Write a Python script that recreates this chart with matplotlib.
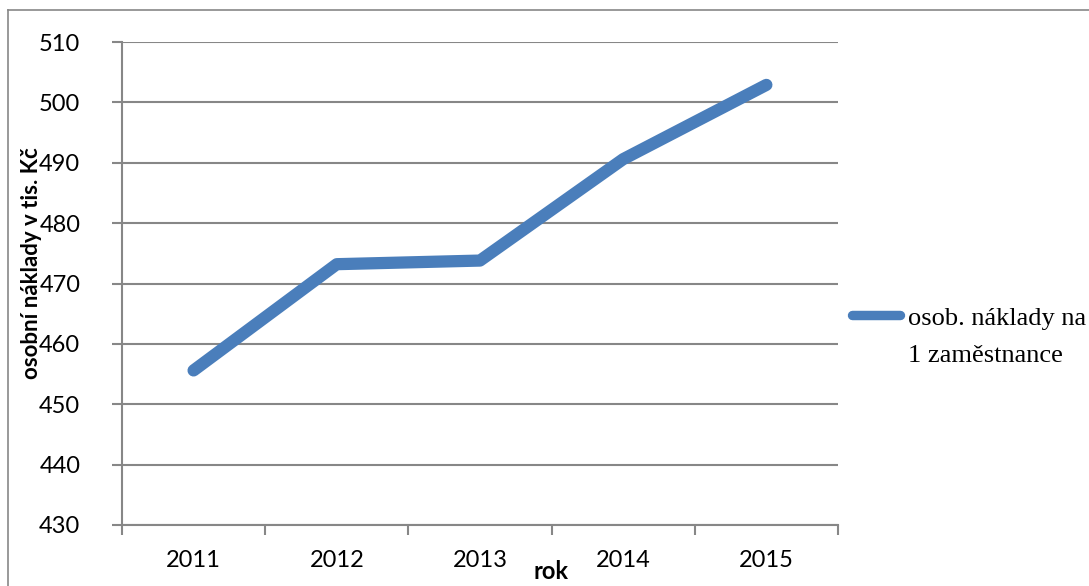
import matplotlib
matplotlib.use('Agg')
from matplotlib import pyplot as plt
from matplotlib.lines import Line2D

roky = ['2011', '2012', '2013', '2014', '2015']
naklady = [455.6, 473.2, 473.8, 490.6, 502.9]
y_ticks = [430, 440, 450, 460, 470, 480, 490, 500, 510]
nazev_rady = ['osob. náklady na', '1 zaměstnance']

seda = '#878787'
modra = '#4A7EBB'

fig = plt.figure(figsize=(10.89, 5.86), dpi=100)
ax = fig.add_axes([0.112, 0.1041, 0.6575, 0.8242])

x = list(range(len(roky)))
ax.plot(x, naklady, color=modra, linewidth=8.8, solid_capstyle='round',
        solid_joinstyle='round', zorder=3)

ax.set_xlim(-0.5, len(roky) - 0.5)
ax.set_ylim(430, 510)
ax.set_yticks(y_ticks)
ax.set_yticklabels([str(v) for v in y_ticks], fontfamily='Lato', fontsize=17)
ax.set_xticks([i - 0.5 for i in range(len(roky) + 1)])
ax.set_xticklabels([''] * (len(roky) + 1))
ax.set_xticks(x, minor=True)
ax.set_xticklabels(roky, minor=True, fontfamily='Lato', fontsize=17)
ax.tick_params(axis='x', which='minor', length=0, pad=18)
ax.tick_params(axis='x', which='major', direction='out', length=7, width=1.5, color=seda)
ax.tick_params(axis='y', direction='out', length=7, width=1.5, color=seda, pad=23)

ax.grid(axis='y', color=seda, linewidth=1.5)
ax.set_axisbelow(True)
for s in ['top', 'right']:
    ax.spines[s].set_visible(False)
for s in ['left', 'bottom']:
    ax.spines[s].set_color(seda)
    ax.spines[s].set_linewidth(1.5)

ax.set_ylabel('osobní náklady v tis. Kč', fontfamily='Lato', fontweight='bold', fontsize=16)
ax.yaxis.set_label_coords(-0.1117, 0.5424)
ax.set_xlabel('rok', fontfamily='Lato', fontweight='bold', fontsize=17)
ax.xaxis.set_label_coords(0.599, -0.0725)

# legenda (rucne, aby cara byla u prvniho radku)
ax.plot([1.0196, 1.0866], [0.4348, 0.4348], transform=ax.transAxes, color=modra,
        linewidth=6.8, solid_capstyle='round', clip_on=False)
ax.text(1.0978, 0.414, nazev_rady[0], transform=ax.transAxes, ha='left', va='baseline',
        fontfamily='Liberation Serif', fontsize=19)
ax.text(1.0978, 0.3375, nazev_rady[1], transform=ax.transAxes, ha='left', va='baseline',
        fontfamily='Liberation Serif', fontsize=19)

# ramecek grafu
fig.add_artist(Line2D([8 / 1089, 8 / 1089], [0, 1 - 10 / 586], transform=fig.transFigure, color=seda, linewidth=1.2))
fig.add_artist(Line2D([8 / 1089, 1], [1 - 10 / 586, 1 - 10 / 586], transform=fig.transFigure, color=seda, linewidth=1.2))

plt.savefig('out.png', dpi=100)
